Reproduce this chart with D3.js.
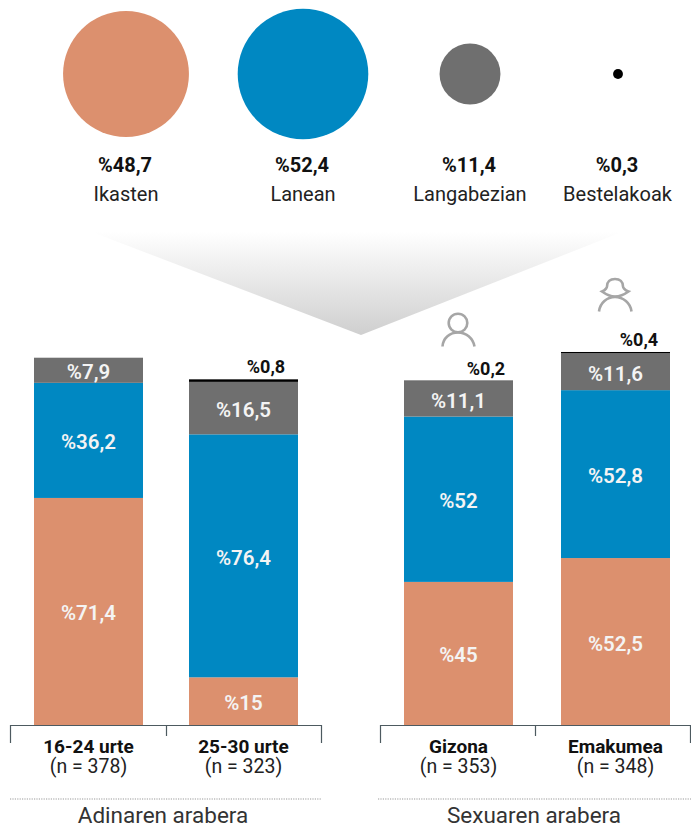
<!DOCTYPE html>
<html><head><meta charset="utf-8">
<script src="https://cdn.jsdelivr.net/npm/d3@7"></script>
<style>
html,body{margin:0;padding:0;background:#fff}
svg{display:block}
text{font-family:Roboto,"Noto Sans",sans-serif;text-anchor:middle}
</style></head><body>
<svg id="c" width="691" height="827"></svg>
<script>
const summaryLabels = ["Ikasten","Lanean","Langabezian","Bestelakoak"];
const summaryValues = [48.7,52.4,11.4,0.3];
const summaryText = ["%48,7","%52,4","%11,4","%0,3"];
const colors = ["#dc906e","#0088c2","#6f6f6f","#000000"];

const groupTitles = ["Adinaren arabera","Sexuaren arabera"];
const catsAge = ["16-24 urte","25-30 urte"];
const nAge = ["(n = 378)","(n = 323)"];
const catsSex = ["Gizona","Emakumea"];
const nSex = ["(n = 353)","(n = 348)"];

const seriesIkasten = [71.4,15,45,52.5];
const seriesLanean = [36.2,76.4,52,52.8];
const seriesLangabezian = [7.9,16.5,11.1,11.6];
const seriesBeste = [0,0.8,0.2,0.4];
const allCats = catsAge.concat(catsSex);

const summaryX = [126,303,470,618];
const smallLabelOffset = [0,77,82,78];

const svg = d3.select("#c");
const fmt = v => "%" + String(Math.round(v*10)/10).replace(".",",");

// funnel gradient
const defs = svg.append("defs");
const g = defs.append("linearGradient").attr("id","fade").attr("x1",0).attr("x2",0).attr("y1",0).attr("y2",1);
g.append("stop").attr("offset",0).attr("stop-color","#ffffff");
g.append("stop").attr("offset",1).attr("stop-color","#cfcfcf");
svg.append("path").attr("d","M92,232L361,335L622,232Z").attr("fill","url(#fade)");

// summary circles
const rScale = d3.scaleSqrt().domain([0,100]).range([0,90.2]);
summaryValues.forEach((v,i)=>{
  svg.append("circle").attr("cx",summaryX[i]).attr("cy",74).attr("r",rScale(v)).attr("fill",colors[i]);
  svg.append("text").attr("x",summaryX[i]-1).attr("y",172).attr("font-size",20).attr("font-weight",700).attr("fill","#111").text(summaryText[i]);
  svg.append("text").attr("x",summaryX[i]-(i==3?0.5:0)).attr("y",201).attr("font-size",20).attr("fill","#222").text(summaryLabels[i]);
});

// stacked bars
const y = d3.scaleLinear().domain([0,100]).range([725,407]);
const xA = d3.scaleBand().domain(catsAge).range([34,298]).paddingInner(46/155);
const xS = d3.scaleBand().domain(catsSex).range([404,670]).paddingInner(48/157);
const xOf = c => catsAge.includes(c) ? xA(c) : xS(c);
const bw = xA.bandwidth();
const stackData = allCats.map((c,i)=>({cat:c,a:seriesIkasten[i],b:seriesLanean[i],c:seriesLangabezian[i],d:seriesBeste[i]}));
const stack = d3.stack().keys(["a","b","c","d"])(stackData);
stack.forEach((layer,k)=>{
  layer.forEach((s,i)=>{
    const val = s[1]-s[0];
    if(val<=0) return;
    const x0 = xOf(s.data.cat);
    svg.append("rect").attr("x",x0).attr("width",bw)
      .attr("y",y(s[1])).attr("height",y(s[0])-y(s[1])).attr("fill",colors[k]);
    if(k<3){
      svg.append("text").attr("x",x0+bw/2).attr("y",(y(s[0])+y(s[1]))/2+9)
        .attr("font-size",20.5).attr("font-weight",600).attr("fill","#f4f4f4").text(fmt(val));
    } else {
      svg.append("text").attr("x",x0+smallLabelOffset[i]).attr("y",y(s[1])-6)
        .attr("font-size",18).attr("font-weight",700).attr("fill","#111").text(fmt(val));
    }
  });
});

// brackets and labels
function bracket(x0,xm,x1){
  svg.append("path").attr("d",`M${x0+.5},743V725.5H${x1-.5}V743M${xm+.5},725.5V736`)
    .attr("fill","none").attr("stroke","#4d5a60").attr("stroke-width",1.2);
}
bracket(10,166,322); bracket(380,535,691);
[[catsAge,nAge,xA],[catsSex,nSex,xS]].forEach(([cs,ns,sc])=>{
  cs.forEach((c,i)=>{
    const cx = sc(c)+bw/2;
    svg.append("text").attr("x",cx).attr("y",753).attr("font-size",19).attr("font-weight",700).attr("fill","#111").text(c);
    svg.append("text").attr("x",cx).attr("y",773).attr("font-size",19.5).attr("fill","#222").text(ns[i]);
  });
});
[[10,322,163],[378,691,534]].forEach(([a,b,cx],i)=>{
  svg.append("line").attr("x1",a).attr("x2",b).attr("y1",799).attr("y2",799)
    .attr("stroke","#9a9a9a").attr("stroke-width",1.2).attr("stroke-dasharray","1.2 1.2");
  svg.append("text").attr("x",cx).attr("y",823).attr("font-size",22.5).attr("fill","#333").text(groupTitles[i]);
});

// person icons
const icon = {fill:"none",stroke:"#a6a6a6","stroke-width":2.6};
const man = svg.append("g");
man.append("circle").attr("cx",458).attr("cy",323).attr("r",9.3);
man.append("path").attr("d","M442.5,346.5C443,338 450,332.5 458,332.5C466,332.5 473,338 474.5,346.5");
const wom = svg.append("g");
wom.append("path").attr("d","M602,291.5C606,290 607,287 607,286.5C607,282 610,279 615,279C620,279 623,282 623,286.5C623,287 624,290 628.5,291.5C625,294 621,296.5 615,296.5C609.5,296.5 605.5,294 602,291.5Z");
wom.append("path").attr("d","M599,311.5C600,303 607,297 615,297C623,297 630.5,303 631.5,311.5");
[man,wom].forEach(s=>Object.entries(icon).forEach(([k,v])=>s.attr(k,v)));
</script>
</body></html>
